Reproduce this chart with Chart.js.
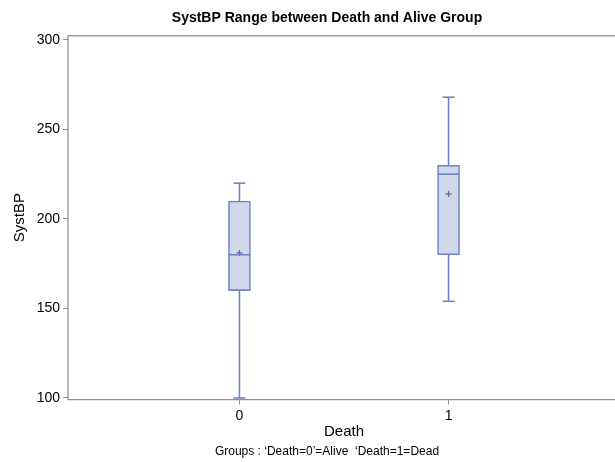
<!DOCTYPE html>
<html lang="en">
<head>
  <meta charset="UTF-8">
  <title>SystBP Range between Death and Alive Group</title>
  <script src="https://cdn.jsdelivr.net/npm/chart.js"></script>
  <style>
    html, body { margin: 0; padding: 0; background: #fff; overflow: hidden; }
    .wrap { width: 654px; height: 462px; }
  </style>
</head>
<body>
  <div class="wrap">
    <canvas id="boxChart" width="654" height="462"></canvas>
  </div>

  <script>
  // dados
  const categories = ['0', '1'];
  const mins    = [100, 154];
  const q1s     = [160, 180];
  const medians = [180, 225];
  const q3s     = [210, 230];
  const maxs    = [220, 268];
  const means   = [181, 214];
  const yTicks  = [100, 150, 200, 250, 300];

  const stroke = '#6f84c6';
  const fill = '#d0d8ea';
  const fontFamily = '"Liberation Sans", Arial, Helvetica, sans-serif';

  // bigodes, tampas e mediana desenhados pelas escalas
  const whiskerPlugin = {
    id: 'whiskers',
    afterDatasetsDraw(chart) {
      const { ctx, scales: { x, y } } = chart;
      ctx.save();
      ctx.strokeStyle = stroke;
      ctx.lineWidth = 1.6;
      categories.forEach((c, i) => {
        const px = x.getPixelForValue(Number(c));
        const line = (x1, y1, x2, y2) => {
          ctx.beginPath();
          ctx.moveTo(x1, y1);
          ctx.lineTo(x2, y2);
          ctx.stroke();
        };
        line(px, y.getPixelForValue(q3s[i]), px, y.getPixelForValue(maxs[i]));
        line(px, y.getPixelForValue(q1s[i]), px, y.getPixelForValue(mins[i]));
        line(px - 6, y.getPixelForValue(maxs[i]), px + 6, y.getPixelForValue(maxs[i]));
        line(px - 6, y.getPixelForValue(mins[i]), px + 6, y.getPixelForValue(mins[i]));
        line(px - 11, y.getPixelForValue(medians[i]), px + 11, y.getPixelForValue(medians[i]));
      });
      ctx.restore();
    }
  };

  // moldura do gráfico
  const framePlugin = {
    id: 'frame',
    afterDraw(chart) {
      const { ctx, chartArea: a } = chart;
      ctx.save();
      ctx.strokeStyle = '#909090';
      ctx.lineWidth = 1.3;
      ctx.strokeRect(a.left, a.top, a.right - a.left, a.bottom - a.top);
      ctx.restore();
    }
  };

  const ctx = document.getElementById('boxChart').getContext('2d');
  new Chart(ctx, {
    type: 'bar',
    data: {
      datasets: [
        {
          type: 'scatter',
          label: 'Mean',
          data: categories.map((c, i) => ({ x: Number(c), y: means[i] })),
          pointStyle: 'cross',
          radius: 3,
          borderColor: '#5d6a8c',
          borderWidth: 1.2,
          order: 0
        },
        {
          label: 'IQR',
          data: categories.map((c, i) => ({ x: Number(c), y: [q1s[i], q3s[i]] })),
          backgroundColor: fill,
          borderColor: stroke,
          borderWidth: 1.6,
          borderSkipped: false,
          barThickness: 22,
          order: 1
        }
      ]
    },
    options: {
      responsive: false,
      animation: false,
      layout: { padding: 0 },
      plugins: {
        legend: { display: false },
        tooltip: { enabled: false },
        title: {
          display: true,
          text: 'SystBP Range between Death and Alive Group',
          color: '#000',
          font: { family: fontFamily, size: 14, weight: 'bold' },
          padding: { top: 10, bottom: 9 }
        },
        subtitle: {
          display: true,
          position: 'bottom',
          text: 'Groups : \u2018Death=0\u2019=Alive  \u2018Death=1=Dead',
          color: '#000',
          font: { family: fontFamily, size: 12 },
          padding: { top: 3, bottom: 3 }
        }
      },
      scales: {
        x: {
          type: 'linear',
          offset: false,
          min: -0.82,
          max: 1.82,
          afterBuildTicks: (s) => { s.ticks = categories.map(c => ({ value: Number(c) })); },
          afterFit: (s) => { s.height = 42; },
          ticks: {
            callback: (v) => categories[v],
            color: '#000',
            padding: 3,
            font: { family: fontFamily, size: 14 }
          },
          grid: { display: true, offset: false, drawOnChartArea: false, tickLength: 5, color: '#909090' },
          border: { display: false },
          title: {
            display: true,
            text: 'Death',
            color: '#000',
            font: { family: fontFamily, size: 15 },
            padding: { top: 0, bottom: 1 }
          }
        },
        y: {
          min: 99.1,
          max: 302.3,
          afterBuildTicks: (s) => { s.ticks = yTicks.map(v => ({ value: v })); },
          afterFit: (s) => { s.width = 68; },
          ticks: {
            color: '#000',
            padding: 3,
            font: { family: fontFamily, size: 14 }
          },
          grid: { display: true, drawOnChartArea: false, tickLength: 5, color: '#909090' },
          border: { display: false },
          title: {
            display: true,
            text: 'SystBP',
            color: '#000',
            font: { family: fontFamily, size: 15 },
            padding: { top: 11, bottom: 0 }
          }
        },
        // eixo vazio à direita só para reservar espaço
        yRight: {
          position: 'right',
          display: true,
          afterFit: (s) => { s.width = 34; },
          ticks: { display: false },
          grid: { display: false },
          border: { display: false }
        }
      }
    },
    plugins: [whiskerPlugin, framePlugin]
  });
  </script>
</body>
</html>
